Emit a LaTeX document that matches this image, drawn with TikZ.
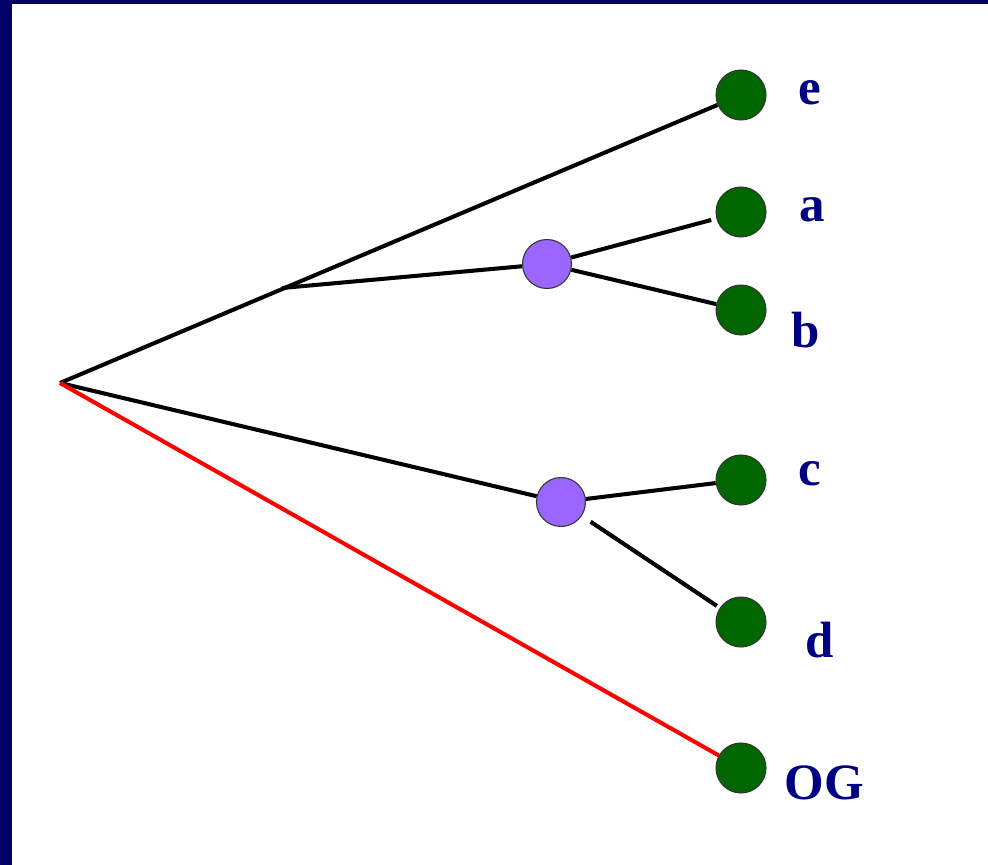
\documentclass[tikz,border=0pt]{standalone}
\usepackage{fontspec}
\setmainfont{Liberation Serif}
\definecolor{frame}{RGB}{0,0,102}
\definecolor{leafgreen}{RGB}{0,102,0}
\definecolor{innerpurple}{RGB}{153,102,255}
\definecolor{labelblue}{RGB}{0,0,128}
\tikzset{
  leaf/.style={circle, fill=leafgreen, draw=black!80, line width=0.6pt, minimum size=1cm, inner sep=0pt},
  inner/.style={circle, fill=innerpurple, draw=black!80, line width=0.6pt, minimum size=0.98cm, inner sep=0pt},
  taxon/.style={text=labelblue, font=\fontsize{29}{34}\selectfont\bfseries, inner sep=0pt},
  branch/.style={line width=2.3pt, black},
}
\begin{document}
\begin{tikzpicture}[x=0.02cm, y=-0.02cm]
    % Frame
    \fill[frame] (0,0) rectangle (988,865);
    \fill[white] (12,4) rectangle (988,865);
    \useasboundingbox (0,0) rectangle (988,865);

    % Root and branch point
    \coordinate (root) at (60,383);
    \coordinate (split) at (282,288);

    % Inner nodes
    \node[inner] (ab) at (547,264) {};
    \node[inner] (cd) at (561,502) {};

    % Leaves
    \node[leaf] (e) at (741,95) {};
    \node[leaf] (a) at (741,212) {};
    \node[leaf] (b) at (741,310) {};
    \node[leaf] (c) at (741,480) {};
    \node[leaf] (d) at (741,622) {};
    \node[leaf] (og) at (741,768) {};

    % Labels
    \node[taxon] (lab-e) at (810,93) {e};
    \node[taxon] (lab-a) at (812,210) {a};
    \node[taxon] (lab-b) at (806,330) {b};
    \node[taxon] (lab-c) at (810,474) {c};
    \node[taxon] (lab-d) at (820,640) {d};
    \node[taxon] (lab-og) at (824,783) {OG};

    % Branches
    \draw[branch] (root) -- (e);
    \draw[branch] (split) -- (ab);
    \draw[branch, shorten >=3pt] (ab) -- (a);
    \draw[branch] (ab) -- (b);
    \draw[branch] (root) -- (cd);
    \draw[branch] (cd) -- (c);
    \draw[branch, shorten <=6pt, shorten >=2pt] (cd) -- (d);

    % Outgroup
    \draw[line width=2.3pt, red] (root) -- (og);
\end{tikzpicture}
\end{document}
